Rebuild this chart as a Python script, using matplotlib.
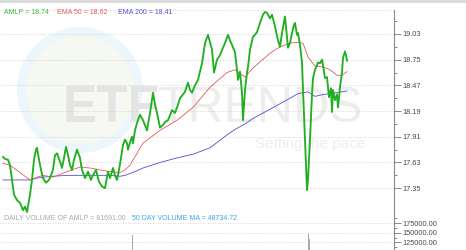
import matplotlib
matplotlib.use("Agg")
import matplotlib.pyplot as plt
from matplotlib.patches import Ellipse, Rectangle

plt.rcParams['font.family'] = ['Liberation Sans', 'DejaVu Sans']

# AMLP closes, by trading session
session = [0, 2, 5, 7, 9, 11, 14, 17, 20, 22, 24, 27, 29, 31, 33, 34, 36, 38, 40, 43,
           46, 48, 50, 52, 54, 57, 59, 61, 63, 65, 67, 69, 71, 74, 77, 79, 82, 85, 88, 90,
           93, 96, 99, 102, 105, 107, 110, 112, 114, 116, 118, 120, 122, 124, 125, 127, 129, 130, 132, 134,
           137, 140, 144, 147, 150, 152, 154, 157, 160, 162, 165, 169, 172, 175, 177, 182, 185, 187, 189, 192,
           195, 197, 199, 202, 205, 207, 209, 211, 214, 217, 220, 222, 225, 227, 229, 232, 234, 235, 237, 239,
           240, 242, 244, 245, 247, 250, 252, 254, 257, 260, 262, 264, 267, 269, 272, 275, 277, 279, 282, 284,
           285, 287, 289, 291, 292, 294, 295, 297, 299, 300, 302, 304, 305, 307, 309, 310, 312, 314, 315, 317,
           319, 320, 322, 324, 325, 326, 328, 329, 330, 332, 334, 335, 337, 339, 340, 342, 343, 344]
close = [17.69, 17.67, 17.66, 17.60, 17.44, 17.28, 17.22, 17.19, 17.11, 17.15, 17.09, 17.28, 17.44, 17.66, 17.77, 17.79, 17.66, 17.55, 17.46, 17.41,
         17.44, 17.49, 17.55, 17.71, 17.73, 17.64, 17.57, 17.68, 17.80, 17.71, 17.60, 17.55, 17.66, 17.77, 17.68, 17.55, 17.46, 17.53, 17.44, 17.49,
         17.55, 17.42, 17.37, 17.35, 17.53, 17.46, 17.57, 17.49, 17.44, 17.55, 17.68, 17.82, 17.88, 17.84, 17.77, 17.85, 17.91, 17.84, 17.98, 18.06,
         18.15, 18.09, 17.98, 18.17, 18.39, 18.26, 18.17, 18.01, 18.04, 18.07, 18.09, 18.20, 18.17, 18.26, 18.33, 18.40, 18.50, 18.42, 18.39, 18.47,
         18.53, 18.62, 18.71, 18.93, 19.02, 18.94, 18.86, 18.61, 18.75, 18.80, 18.88, 18.93, 19.02, 18.96, 18.91, 18.83, 18.64, 18.53, 18.62, 18.39,
         18.09, 18.42, 18.61, 18.67, 18.86, 19.00, 19.02, 19.05, 19.15, 19.24, 19.27, 19.26, 19.20, 19.24, 19.11, 18.96, 18.89, 19.04, 19.22, 19.00,
         18.88, 18.93, 19.04, 19.13, 19.15, 19.02, 19.04, 18.91, 18.72, 18.42, 17.88, 17.33, 17.44, 17.88, 18.37, 18.55, 18.64, 18.69, 18.72, 18.71,
         18.75, 18.69, 18.55, 18.56, 18.45, 18.34, 18.44, 18.18, 18.42, 18.31, 18.37, 18.23, 18.45, 18.61, 18.77, 18.84, 18.80, 18.74]

# 50-day and 200-day EMA
ema_session = [0, 7, 17, 27, 34, 40, 50, 64, 77, 87, 97, 107, 117, 122, 127, 134, 140, 157, 174, 190,
               207, 224, 232, 242, 250, 267, 277, 287, 295, 300, 305, 312, 320, 327, 334, 339, 344]
ema50 = [17.62, 17.60, 17.52, 17.44, 17.47, 17.49, 17.47, 17.53, 17.58, 17.57, 17.55, 17.53, 17.52, 17.55, 17.60, 17.73, 17.84, 17.98, 18.09, 18.23,
         18.45, 18.61, 18.64, 18.56, 18.66, 18.82, 18.89, 18.93, 18.94, 18.93, 18.78, 18.68, 18.67, 18.64, 18.58, 18.58, 18.62]
ema200 = [17.44, 17.44, 17.44, 17.44, 17.46, 17.47, 17.48, 17.49, 17.49, 17.49, 17.49, 17.49, 17.48, 17.49, 17.51, 17.54, 17.57, 17.63, 17.68, 17.72,
          17.79, 17.93, 17.99, 18.05, 18.11, 18.21, 18.27, 18.33, 18.38, 18.39, 18.40, 18.35, 18.37, 18.38, 18.39, 18.40, 18.41]

# volume spikes that reach the visible part of the volume pane
vol_session = [130, 306, 307]
volume = [144000, 150000, 135000]

price_ticks = [17.35, 17.63, 17.91, 18.19, 18.47, 18.75, 19.03]
vol_ticks = [100000, 125000, 150000, 175000]

W, H = 466, 250
fig = plt.figure(figsize=(W / 100, H / 100), dpi=100)
fig.patch.set_facecolor('white')

# watermark: ring + inner disc, then the logo text
fig.patches.append(Ellipse((80 / W, 1 - 90 / H), 126 / W, 126 / H, transform=fig.transFigure,
                           facecolor='#edf6fb', edgecolor='none', zorder=-4))
fig.patches.append(Ellipse((80 / W, 1 - 90 / H), 108 / W, 108 / H, transform=fig.transFigure,
                           facecolor='#f5f9f1', edgecolor='none', zorder=-3))
fig.text(63 / W, 1 - 122 / H, 'ETF', fontsize=37, fontweight='bold', color='#e4e4e4',
         va='baseline', ha='left', zorder=-2)
fig.text(363 / W, 1 - 122 / H, 'TRENDS', fontsize=36, color='#ededed',
         va='baseline', ha='right', zorder=-2)
fig.text(365 / W, 1 - 148 / H, 'Setting the pace', fontsize=11, color='#eeeeee',
         va='baseline', ha='right', zorder=-2)
fig.patches.append(Rectangle((0, 1 - 2.5 / H), 1, 2.5 / H, transform=fig.transFigure,
                             facecolor='#dadada', edgecolor='none', zorder=-1))

grid_kw = dict(color='#c8c8c8', linestyle=(0, (1, 2)), linewidth=0.6)

ax = fig.add_axes([0, 35 / H, 394 / W, 205 / H])
ax.patch.set_alpha(0)
ax.plot(ema_session, ema200, color='#4f4fd0', lw=0.6)
ax.plot(ema_session, ema50, color='#e45a55', lw=0.6)
ax.plot(session, close, color='#22b022', lw=1.35)
ax.set_xlim(-3, 391)
ax.set_ylim(17.058, 19.291)
ax.set_yticks(price_ticks)
ax.set_yticks([t + 0.14 for t in price_ticks], minor=True)
ax.set_yticklabels(['%.2f' % t for t in price_ticks])
ax.yaxis.tick_right()
ax.grid(axis='y', **grid_kw)
ax.set_xticks([])

vax = fig.add_axes([0, -12 / H, 394 / W, 47 / H])
vax.patch.set_alpha(0)
vax.bar(vol_session, volume, width=1.0, color='#a8a8a8')
vax.set_xlim(-3, 391)
vax.set_ylim(74200, 196600)
vax.set_yticks(vol_ticks)
vax.set_yticks([t + 12500 for t in vol_ticks], minor=True)
vax.set_yticklabels(['%.2f' % t for t in vol_ticks])
vax.yaxis.tick_right()
vax.grid(axis='y', **grid_kw)
vax.set_xticks([])

for a in (ax, vax):
    for s in ('left', 'bottom', 'top'):
        a.spines[s].set_visible(False)
    a.spines['right'].set_color('#8a8a8a')
    a.spines['right'].set_linewidth(0.8)
    a.tick_params(axis='y', which='major', direction='out', length=5, width=0.7,
                  color='#8a8a8a', labelsize=5.3, labelcolor='#4a4a4a', pad=1)
    a.tick_params(axis='y', which='minor', direction='out', length=2.5, width=0.7,
                  color='#8a8a8a')
ax.axhline(19.291, color='#c8c8c8', linestyle=(0, (1, 2)), linewidth=0.6, clip_on=False)

# legends
fig.text(4 / W, 1 - 13 / H, 'AMLP = 18.74', fontsize=5, color='#3cb83c', va='center')
fig.text(57 / W, 1 - 13 / H, 'EMA 50 = 18.62', fontsize=5, color='#e45a55', va='center')
fig.text(118 / W, 1 - 13 / H, 'EMA 200 = 18.41', fontsize=5, color='#4f4fd0', va='center')
fig.text(4 / W, 1 - 218 / H, 'DAILY VOLUME OF AMLP = 81691.00', fontsize=5, color='#a8a8a8', va='center')
fig.text(132 / W, 1 - 218 / H, '50 DAY VOLUME MA = 48734.72', fontsize=5, color='#38a8e8', va='center')

fig.savefig('out.png', dpi=100, facecolor='white')
